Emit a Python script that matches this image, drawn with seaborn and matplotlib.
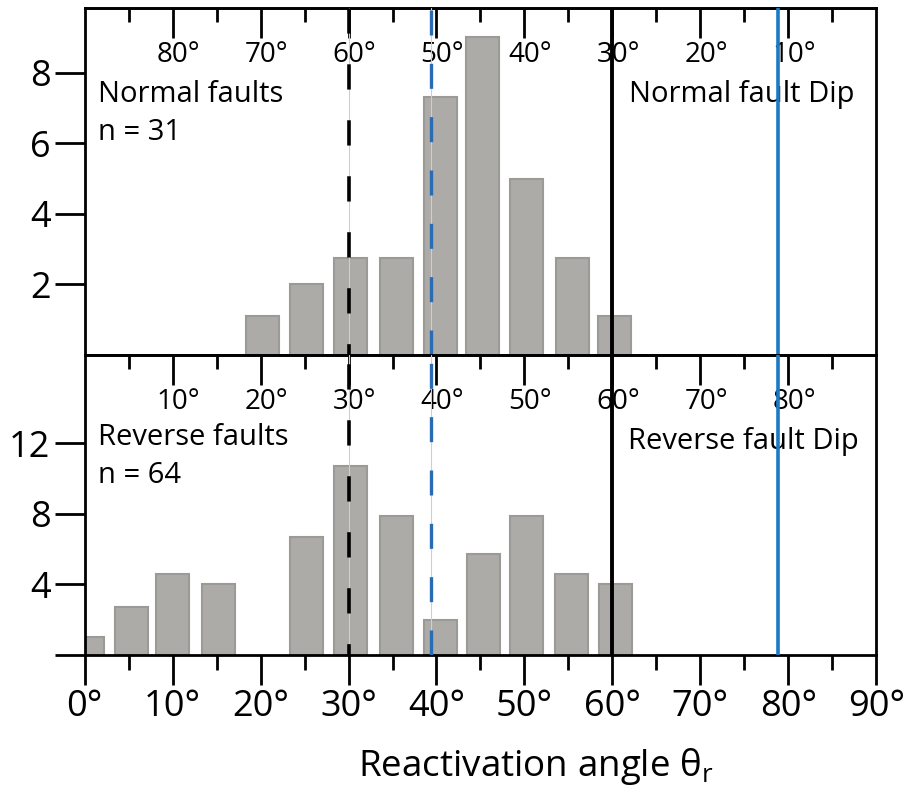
import matplotlib
matplotlib.use('Agg')
import matplotlib.pyplot as plt
from matplotlib.transforms import ScaledTranslation
import seaborn as sns
import pandas as pd

# bar data (angle of bar centre, height)
normal_angles = [20.2, 25.2, 30.2, 35.5, 40.5, 45.2, 50.2, 55.5, 60.2]
normal_counts = [1.1, 2.0, 2.75, 2.75, 7.3, 9.0, 5.0, 2.75, 1.1]
reverse_angles = [0.3, 5.3, 10.0, 15.2, 25.2, 30.2, 35.5, 40.5, 45.3, 50.2, 55.4, 60.3]
reverse_counts = [1.0, 2.7, 4.6, 4.0, 6.7, 10.7, 7.9, 2.0, 5.7, 7.9, 4.6, 4.0]

# reference lines (angle)
dashed_black = 30.0
dashed_blue = 39.4
solid_black = 60.0
solid_blue = 78.8

top_labels = [10, 20, 30, 40, 50, 60, 70, 80]
top_minor = [5, 15, 25, 35, 45, 55, 65, 75, 85]
bottom_labels = [0, 10, 20, 30, 40, 50, 60, 70, 80, 90]

sns.set_theme(style='ticks')
plt.rcParams['font.family'] = ['Open Sans', 'DejaVu Sans']
plt.rcParams['axes.linewidth'] = 2
plt.rcParams['text.color'] = 'black'
plt.rcParams['xtick.color'] = 'black'
plt.rcParams['ytick.color'] = 'black'
plt.rcParams['xtick.labelcolor'] = 'black'
plt.rcParams['ytick.labelcolor'] = 'black'

bar_color = '#adaba7'
edge_color = '#9c9a96'
blue = '#1b7ac4'
blue_d = '#2a6cb4'

fig = plt.figure(figsize=(9.13, 7.87), dpi=100)
ax1 = fig.add_axes([0.0928, 0.5489, 0.8669, 0.4409])
ax2 = fig.add_axes([0.0928, 0.1677, 0.8669, 0.3812])

panels = [
    (ax1, normal_angles, normal_counts, 9.83, [2, 4, 6, 8], ['2', '4', '6', '8'], True),
    (ax2, reverse_angles, reverse_counts, 17.0, [0, 4, 8, 12], ['', '4', '8', '12'], False),
]

shift = ScaledTranslation(6 / 100, 0, fig.dpi_scale_trans)

for ax, ang, cnt, ytop, yt, ytl, is_normal in panels:
    df = pd.DataFrame({'angle': ang, 'count': cnt})
    mind = min(b - a for a, b in zip(ang[:-1], ang[1:]))
    sns.barplot(data=df, x='angle', y='count', native_scale=True, width=3.75 / mind,
                color=bar_color, saturation=1, edgecolor=edge_color, linewidth=1.5,
                errorbar=None, ax=ax, zorder=2)
    # thin guide behind dashed lines
    for v in [dashed_black, dashed_blue]:
        ax.axvline(v, color='#cfcfcf', lw=0.8, zorder=3)
    ax.axvline(dashed_black, color='black', lw=2.6, ls=(4, (7, 8.5)), zorder=4)
    ax.axvline(dashed_blue, color=blue_d, lw=2.4, ls=(0, (7.5, 8.5)), zorder=4)
    ax.axvline(solid_black, color='black', lw=2.8, zorder=4)
    ax.axvline(solid_blue, color=blue, lw=2.6, zorder=4)

    ax.set_xlim(0, 90)
    ax.set_ylim(0, ytop)
    ax.set_xlabel('')
    ax.set_ylabel('')
    ax.set_yticks(yt)
    ax.set_yticklabels(ytl)
    ax.tick_params(axis='y', direction='out', length=21.6, width=2, pad=3,
                   labelsize=26)
    for s in ax.spines.values():
        s.set_visible(True)
        s.set_linewidth(2)
        s.set_color('black')

    if is_normal:
        sec = ax.secondary_xaxis('top', functions=(lambda x: 90 - x, lambda x: 90 - x))
    else:
        sec = ax.secondary_xaxis('top')
    sec.set_xticks(top_labels)
    sec.set_xticklabels([f'{t}°' for t in top_labels])
    sec.set_xticks(top_minor, minor=True)
    sec.tick_params(which='major', direction='in', length=21.6, width=2, pad=-44,
                    labelsize=20)
    sec.tick_params(which='minor', direction='in', length=10, width=2)
    sec.spines['top'].set_linewidth(2)
    for lab in sec.get_xticklabels():
        lab.set_transform(lab.get_transform() + shift)

# top panel: no bottom ticks
ax1.tick_params(axis='x', bottom=False, labelbottom=False)

# bottom panel: outward ticks with degree labels
ax2.set_xticks(bottom_labels)
ax2.set_xticklabels([f'{t}°' for t in bottom_labels])
ax2.set_xticks(top_minor, minor=True)
ax2.tick_params(axis='x', which='major', direction='out', length=21.6, width=2, pad=3,
                labelsize=26)
ax2.tick_params(axis='x', which='minor', direction='out', length=11, width=2)

# panel annotations
ax1.text(0.0168, 0.729, 'Normal faults', transform=ax1.transAxes, fontsize=21, va='baseline')
ax1.text(0.0168, 0.62, 'n = 31', transform=ax1.transAxes, fontsize=21, va='baseline')
ax1.text(0.972, 0.729, 'Normal fault Dip', transform=ax1.transAxes, fontsize=21,
         va='baseline', ha='right')
ax2.text(0.0168, 0.7016, 'Reverse faults', transform=ax2.transAxes, fontsize=21, va='baseline')
ax2.text(0.0168, 0.5747, 'n = 64', transform=ax2.transAxes, fontsize=21, va='baseline')
ax2.text(0.978, 0.688, 'Reverse fault Dip', transform=ax2.transAxes, fontsize=21,
         va='baseline', ha='right')

fig.text(0.587, 0.0145, 'Reactivation angle θ$_{\\mathregular{r}}$', ha='center',
         va='baseline', fontsize=26.5)

fig.savefig('out.png', dpi=100, facecolor='white')
